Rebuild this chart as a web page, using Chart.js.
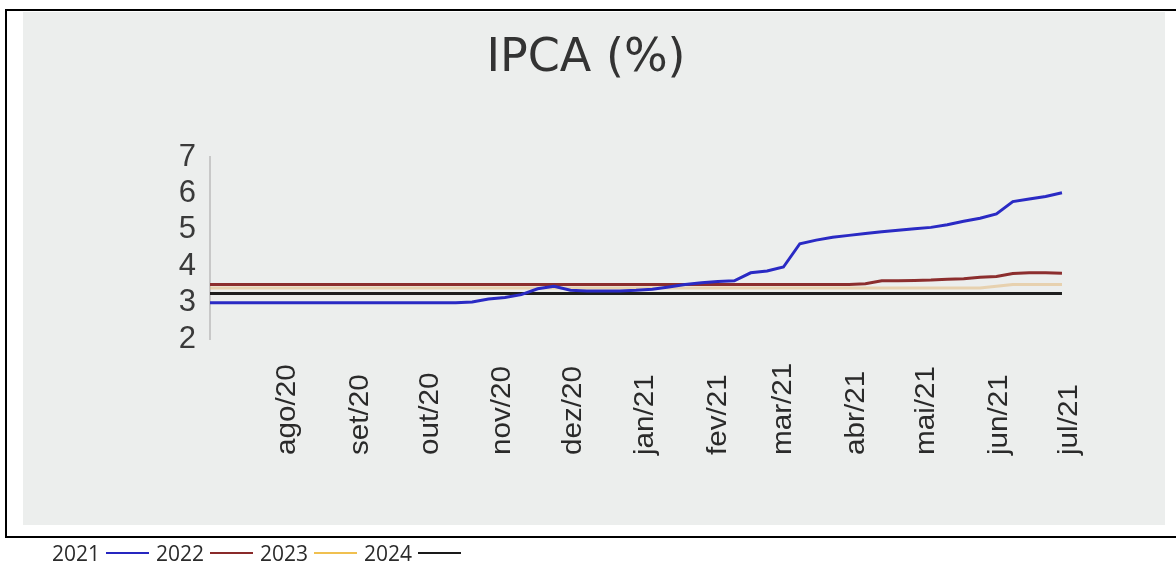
<!DOCTYPE html>
<html>
<head>
<meta charset="utf-8">
<script src="https://cdn.jsdelivr.net/npm/chart.js@4/dist/chart.umd.min.js"></script>
<style>
  html, body { margin: 0; padding: 0; background: #ffffff; }
  body { width: 1176px; height: 568px; position: relative; overflow: hidden; font-family: "Open Sans", sans-serif; }
  .panel { position: absolute; left: 23px; top: 12px; width: 1142px; height: 513px; background: #eceeed; }
  .rule { position: absolute; background: #000; }
  #chart { position: absolute; left: 0; top: 0; }
  .legend { position: absolute; left: 52px; top: 539px; height: 28px; display: flex; align-items: center; font-size: 21px; color: #2b2b2b; }
  .legend .lbl { margin-right: 6px; }
  .legend .ln { display: inline-block; width: 43px; height: 2px; margin-right: 7px; }
</style>
</head>
<body>
<div class="panel"></div>
<div class="rule" style="left:5px;top:9px;width:1171px;height:2px"></div>
<div class="rule" style="left:5px;top:9px;width:2px;height:529px"></div>
<div class="rule" style="left:5px;top:536px;width:1171px;height:2px"></div>
<canvas id="chart" width="1176" height="568"></canvas>
<div class="legend" id="legend"></div>
<script>
// Weekly survey dates (categories)
const weeks = [
  '2020-06-29','2020-07-06','2020-07-13','2020-07-20','2020-07-27','2020-08-03','2020-08-10','2020-08-17','2020-08-24',
  '2020-08-31','2020-09-07','2020-09-14','2020-09-21','2020-09-28','2020-10-05','2020-10-12','2020-10-19','2020-10-26',
  '2020-11-02','2020-11-09','2020-11-16','2020-11-23','2020-11-30','2020-12-07','2020-12-14','2020-12-21','2020-12-28',
  '2021-01-04','2021-01-11','2021-01-18','2021-01-25','2021-02-01','2021-02-08','2021-02-15','2021-02-22','2021-03-01',
  '2021-03-08','2021-03-15','2021-03-22','2021-03-29','2021-04-05','2021-04-12','2021-04-19','2021-04-26','2021-05-03',
  '2021-05-10','2021-05-17','2021-05-24','2021-05-31','2021-06-07','2021-06-14','2021-06-21','2021-06-28'
];
// Tick labels shown on the x axis (month starts)
const tickLabels = ['ago/20','set/20','out/20','nov/20','dez/20','jan/21','fev/21','mar/21','abr/21','mai/21','jun/21','jul/21'];
const monthAbbr = ['jan','fev','mar','abr','mai','jun','jul','ago','set','out','nov','dez'];
const yTicks = [2, 3, 4, 5, 6, 7];

// Series values (IPCA expectations, %)
const ipca2021 = [
  3.00,3.00,3.00,3.00,3.00,3.00,3.00,3.00,3.00,3.00,3.00,3.00,3.00,3.00,3.00,3.00,
  3.02,3.10,3.14,3.22,3.38,3.45,3.34,3.32,3.32,3.32,3.34,3.37,3.43,3.50,3.55,3.58,
  3.60,3.82,3.87,3.98,4.62,4.72,4.80,4.85,4.90,4.95,4.99,5.03,5.07,5.14,5.24,5.32,
  5.44,5.78,5.85,5.92,6.02
];
const ipca2022 = [
  3.50,3.50,3.50,3.50,3.50,3.50,3.50,3.50,3.50,3.50,3.50,3.50,3.50,3.50,3.50,3.50,
  3.50,3.50,3.50,3.50,3.50,3.50,3.50,3.50,3.50,3.50,3.50,3.50,3.50,3.50,3.50,3.50,
  3.50,3.50,3.50,3.50,3.50,3.50,3.50,3.50,3.52,3.60,3.60,3.61,3.62,3.64,3.66,3.70,
  3.72,3.80,3.82,3.82,3.81
];
const ipca2023 = [
  3.40,3.40,3.40,3.40,3.40,3.40,3.40,3.40,3.40,3.40,3.40,3.40,3.40,3.40,3.40,3.40,
  3.40,3.40,3.40,3.40,3.40,3.40,3.40,3.40,3.40,3.40,3.40,3.40,3.40,3.40,3.40,3.40,
  3.40,3.40,3.40,3.40,3.40,3.40,3.40,3.40,3.40,3.40,3.40,3.40,3.40,3.40,3.40,3.40,
  3.45,3.50,3.50,3.50,3.50
];
const ipca2024 = [
  3.25,3.25,3.25,3.25,3.25,3.25,3.25,3.25,3.25,3.25,3.25,3.25,3.25,3.25,3.25,3.25,
  3.25,3.25,3.25,3.25,3.25,3.25,3.25,3.25,3.25,3.25,3.25,3.25,3.25,3.25,3.25,3.25,
  3.25,3.25,3.25,3.25,3.25,3.25,3.25,3.25,3.25,3.25,3.25,3.25,3.25,3.25,3.25,3.25,
  3.25,3.25,3.25,3.25,3.25
];
const seriesNames = ['2021', '2022', '2023', '2024'];
const seriesColors = ['#2626c0', '#8a2a2a', '#f0c050', '#1a1a1a'];
const lineColors = ['#2a2ac4', '#8c2e2e', 'rgba(226,172,100,0.45)', '#1e1e1e'];

// day number helpers (UTC)
function dayOf(dateStr) {
  const [y, m, d] = dateStr.split('-').map(Number);
  return Date.UTC(y, m - 1, d) / 864e5;
}
function dayOfMonthLabel(lbl) {
  const [mon, yy] = lbl.split('/');
  return Date.UTC(2000 + Number(yy), monthAbbr.indexOf(mon), 1) / 864e5;
}
const xMin = dayOf(weeks[0]);
const xMax = dayOfMonthLabel(tickLabels[tickLabels.length - 1]);

const xLabelPlugin = {
  id: 'xLabels',
  afterDraw(chart) {
    const xs = chart.scales.x;
    const ctx = chart.ctx;
    ctx.save();
    ctx.font = '28px "Liberation Sans", Arial, sans-serif';
    ctx.fillStyle = '#2a2a2a';
    ctx.textAlign = 'left';
    ctx.textBaseline = 'middle';
    xs.ticks.forEach((t, i) => {
      const label = t.label;
      if (!label) return;
      const px = xs.getPixelForValue(t.value);
      ctx.save();
      ctx.translate(px, 455);
      ctx.rotate(-Math.PI / 2);
      ctx.scale(1.06, 1);
      ctx.fillText(label, 0, 0);
      ctx.restore();
    });
    ctx.restore();
  }
};

const datasets = [ipca2021, ipca2022, ipca2023, ipca2024].map((d, i) => ({
  label: seriesNames[i],
  data: d.map((v, k) => ({ x: dayOf(weeks[k]), y: v })),
  borderColor: lineColors[i],
  borderWidth: 3,
  pointRadius: 0,
  tension: 0,
  fill: false,
  order: [1, 2, 4, 3][i]
}));

new Chart(document.getElementById('chart'), {
  type: 'line',
  data: { datasets },
  plugins: [xLabelPlugin],
  options: {
    responsive: false,
    animation: false,
    parsing: true,
    layout: { padding: { left: 103, right: 107, top: 0, bottom: 0 } },
    plugins: {
      legend: { display: false },
      tooltip: { enabled: false },
      title: {
        display: true,
        text: 'IPCA (%)',
        color: '#333333',
        font: { family: '"DejaVu Sans", sans-serif', size: 46, weight: 'normal' },
        padding: { top: 31, bottom: 71 }
      }
    },
    scales: {
      x: {
        type: 'linear',
        min: xMin,
        max: xMax,
        afterBuildTicks: (s) => { s.ticks = tickLabels.map(l => ({ value: dayOfMonthLabel(l) })); },
        grid: { display: false, drawTicks: false },
        border: { display: false },
        ticks: {
          display: false,
          autoSkip: false,
          callback: function (value, index) { return tickLabels[index]; }
        },
        afterFit: (s) => { s.height = 229; }
      },
      y: {
        min: 2,
        max: 7,
        afterBuildTicks: (s) => { s.ticks = yTicks.map(v => ({ value: v })); },
        grid: { display: false, drawTicks: false },
        border: { display: true, color: '#c8c8c8', width: 2 },
        ticks: {
          autoSkip: false,
          padding: 14,
          color: '#3a3a3a',
          font: { family: '"Liberation Sans", Arial, sans-serif', size: 31 }
        },
        afterFit: (s) => { s.width = 107; }
      }
    }
  }
});

const legend = document.getElementById('legend');
seriesNames.forEach((n, i) => {
  const t = document.createElement('span');
  t.className = 'lbl';
  t.textContent = n;
  const l = document.createElement('span');
  l.className = 'ln';
  l.style.background = seriesColors[i];
  legend.appendChild(t);
  legend.appendChild(l);
});
</script>
</body>
</html>
